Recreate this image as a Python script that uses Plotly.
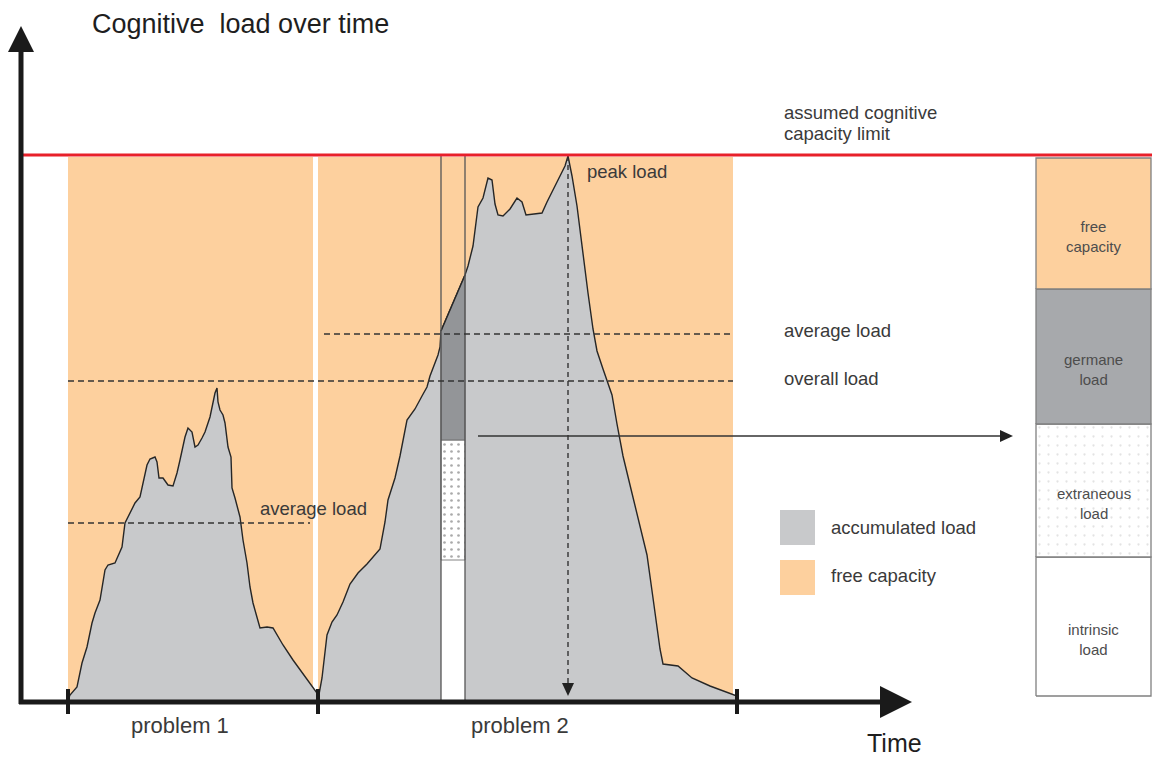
import numpy as np
import plotly.graph_objects as go

# ---------------- data (time units, load units) ----------------
p1_time = [0, 2, 9, 14, 19, 24, 27, 32, 37, 40, 47, 54, 57, 62, 67, 72, 75, 79, 82, 87, 89, 91,
           95, 100, 105, 109, 112, 117, 120, 124, 127, 130, 134, 137, 142, 145, 147, 149, 150,
           152, 155, 157, 160, 163, 164, 167, 172, 175, 179, 182, 185, 192, 199, 205, 210, 215,
           225, 239, 249, 250]
p1_load = [0, 5, 13, 37, 53, 77, 87, 100, 130, 135, 137, 153, 177, 187, 197, 203, 217, 235, 241,
           243, 238, 222, 222, 215, 214, 227, 240, 263, 272, 268, 253, 255, 262, 268, 283, 297,
           307, 312, 298, 290, 285, 277, 253, 243, 212, 202, 183, 160, 137, 113, 97, 72, 73, 72,
           63, 55, 40, 20, 7, 0]

p2_time = [250, 254, 259, 264, 269, 275, 282, 290, 299, 312, 317, 320, 327, 332, 339, 347, 354,
           359, 362, 367, 370, 372, 373, 397, 400, 405, 410, 415, 420, 424, 427, 430, 435, 442,
           449, 454, 458, 474, 479, 489, 497, 500, 504, 509, 515, 520, 525, 529, 535, 544, 549,
           555, 562, 572, 579, 585, 592, 595, 610, 624, 642, 669, 669]
p2_load = [0, 22, 65, 78, 85, 98, 116, 127, 136, 151, 178, 200, 222, 244, 280, 291, 304, 313,
           324, 338, 345, 353, 369, 425, 434, 454, 493, 502, 522, 520, 496, 485, 484, 491, 502,
           498, 485, 487, 498, 518, 534, 544, 524, 494, 444, 407, 371, 349, 331, 305, 276, 244,
           215, 174, 145, 102, 51, 36, 34, 22, 14, 4, 0]

capacity = 545
problem_bounds = [0, 250, 669]
problem_labels = ["problem 1", "problem 2"]
free_capacity_spans = [(0, 245), (250, 665)]
avg_load_p1 = 177
avg_load_p2 = 366
overall_load = 319
peak_time = 500
peak_load = 544

snapshot_span = [373, 397]
snapshot_intrinsic = 140
snapshot_extraneous = 260

panel_span = [968, 1083]
panel_levels = [4, 143, 276, 411, 542]
panel_labels = ["intrinsic<br>load", "extraneous<br>load", "germane<br>load", "free<br>capacity"]

arrow_load = 264
arrow_span = [410, 945]

legend_labels = ["accumulated load", "free capacity"]

# ---------------- styles ----------------
ORANGE = "#FDD09E"
GRAY = "#C8C9CB"
DARK = "#939598"
PANEL_DARK = "#A7A9AC"
INK = "#262626"
TXT = "#3a3a3a"
FONT = "Liberation Sans, Arial, sans-serif"

fig = go.Figure()
shapes = []

# free capacity backgrounds
for a, b in free_capacity_spans:
    shapes.append(dict(type="rect", xref="x", yref="y", x0=a, x1=b, y0=0, y1=capacity - 2,
                       fillcolor=ORANGE, line=dict(width=0), layer="below"))

# load curves
for t, l in [(p1_time, p1_load), (p2_time, p2_load)]:
    fig.add_trace(go.Scatter(x=t, y=l, mode="lines", fill="tozeroy", fillcolor=GRAY,
                             line=dict(color=INK, width=1.4), hoverinfo="skip"))

# snapshot column
s0, s1 = snapshot_span
top0 = float(np.interp(s0, p2_time, p2_load))
top1 = float(np.interp(s1, p2_time, p2_load))
fig.add_trace(go.Scatter(x=[s0, s1, s1, s0, s0], y=[-2, -2, snapshot_intrinsic, snapshot_intrinsic, -2],
                         mode="lines", fill="toself", fillcolor="white", line=dict(width=0)))
fig.add_trace(go.Scatter(x=[s0, s1, s1, s0, s0],
                         y=[snapshot_intrinsic, snapshot_intrinsic, snapshot_extraneous, snapshot_extraneous, snapshot_intrinsic],
                         mode="lines", fill="toself", fillcolor="white",
                         fillpattern=dict(shape=".", size=7, solidity=0.12, fgcolor="#555", bgcolor="white"),
                         line=dict(color="#666", width=0.8)))
fig.add_trace(go.Scatter(x=[s0, s0, s1, s1, s0], y=[snapshot_extraneous, top0, top1, snapshot_extraneous, snapshot_extraneous],
                         mode="lines", fill="toself", fillcolor=DARK, line=dict(color="#666", width=0.8)))
fig.add_trace(go.Scatter(x=[s0, s1], y=[top0, top1], mode="lines", line=dict(color=INK, width=1.4)))
for s in snapshot_span:
    fig.add_trace(go.Scatter(x=[s, s], y=[-2, capacity], mode="lines", line=dict(color="#555", width=1.3)))

# dashed reference lines
for (a, b, y) in [(0, 242, avg_load_p1), (0, 665, overall_load), (256, 665, avg_load_p2)]:
    fig.add_trace(go.Scatter(x=[a, b], y=[y, y], mode="lines",
                             line=dict(color="#333", width=1.4, dash="6px,4px")))

# peak dashed arrow
fig.add_trace(go.Scatter(x=[peak_time, peak_time], y=[peak_load, 16], mode="lines",
                         line=dict(color="#333", width=1.4, dash="5px,4px")))
fig.add_trace(go.Scatter(x=[peak_time - 6, peak_time + 6, peak_time, peak_time - 6], y=[17, 17, 4, 17],
                         mode="lines", fill="toself", fillcolor="#222", line=dict(width=0)))

# horizontal arrow to panel
fig.add_trace(go.Scatter(x=[arrow_span[0], arrow_span[1] - 10], y=[arrow_load, arrow_load], mode="lines",
                         line=dict(color="#333", width=1.5)))
fig.add_trace(go.Scatter(x=[arrow_span[1] - 13, arrow_span[1], arrow_span[1] - 13, arrow_span[1] - 13],
                         y=[arrow_load + 6, arrow_load, arrow_load - 6, arrow_load + 6],
                         mode="lines", fill="toself", fillcolor="#222", line=dict(width=0)))

# capacity limit
fig.add_trace(go.Scatter(x=[-48, 1090], y=[capacity, capacity], mode="lines",
                         line=dict(color="#E8202A", width=3)))

# right panel
p0, p1 = panel_span
fills = ["white", "white", PANEL_DARK, ORANGE]
for i in range(4):
    lo, hi = panel_levels[i], panel_levels[i + 1]
    kw = {}
    if i == 1:
        kw["fillpattern"] = dict(shape=".", size=9, solidity=0.05, fgcolor="#c8c8c8", bgcolor="white")
    fig.add_trace(go.Scatter(x=[p0, p1, p1, p0, p0], y=[lo, lo, hi, hi, lo], mode="lines",
                             fill="toself", fillcolor=fills[i], line=dict(color="#808080", width=1.3), **kw))

# axes
fig.add_trace(go.Scatter(x=[-47, -47], y=[-4, 650], mode="lines", line=dict(color="#1a1a1a", width=5)))
fig.add_trace(go.Scatter(x=[-60, -34, -47, -60], y=[648, 648, 674, 648], mode="lines", fill="toself",
                         fillcolor="#1a1a1a", line=dict(width=0)))
fig.add_trace(go.Scatter(x=[-49, 815], y=[-2, -2], mode="lines", line=dict(color="#1a1a1a", width=5)))
fig.add_trace(go.Scatter(x=[812, 812, 844, 812], y=[-18, 14, -2, -18], mode="lines", fill="toself",
                         fillcolor="#1a1a1a", line=dict(width=0)))
for b in problem_bounds:
    fig.add_trace(go.Scatter(x=[b, b], y=[11, -14], mode="lines", line=dict(color="#1a1a1a", width=4)))

# legend swatches
for y0, c in [(155, GRAY), (105, ORANGE)]:
    shapes.append(dict(type="rect", xref="x", yref="y", x0=712, x1=747, y0=y0, y1=y0 + 35,
                       fillcolor=c, line=dict(width=0)))

ann = []
def text(x, y, s, size=19, xanchor="left", color=TXT, align="left"):
    ann.append(dict(x=x, y=y, xref="x", yref="y", text=s, showarrow=False, xanchor=xanchor,
                    yanchor="middle", align=align, font=dict(family=FONT, size=size, color=color)))

text(22, 676, "Cognitive&nbsp;&nbsp;load over time", size=27, color="#1e1e1e")
text(714, 588, "assumed cognitive", size=18.5)
text(714, 567, "capacity limit", size=18.5)
text(517, 529, "peak load", size=18.5)
text(714, 370, "average load", size=18.5)
text(714, 322, "overall load", size=18.5)
text(190, 192, "average load", size=18.5)
text(761, 173, legend_labels[0], size=18.5)
text(761, 125, legend_labels[1], size=18.5)
label_centers = [112, 452]
for i, lab in enumerate(problem_labels):
    text(label_centers[i], -25, lab, size=22, xanchor="center")
text(826, -43, "Time", size=25, xanchor="center", color="#1e1e1e")
for i in range(4):
    text((p0 + p1) / 2, (panel_levels[i] + panel_levels[i + 1]) / 2 - 13, panel_labels[i], size=15,
         xanchor="center", align="center", color="#4d4d4d")

fig.update_layout(
    width=1152, height=759, margin=dict(l=0, r=0, t=0, b=0),
    paper_bgcolor="white", plot_bgcolor="white", showlegend=False,
    xaxis=dict(range=[-68, 1084], visible=False, fixedrange=True),
    yaxis=dict(range=[-59, 700], visible=False, fixedrange=True),
    shapes=shapes, annotations=ann,
)
fig.write_html("out.html", config={"displayModeBar": False},
               post_script="document.body.style.margin='0';document.body.style.overflow='hidden';")
